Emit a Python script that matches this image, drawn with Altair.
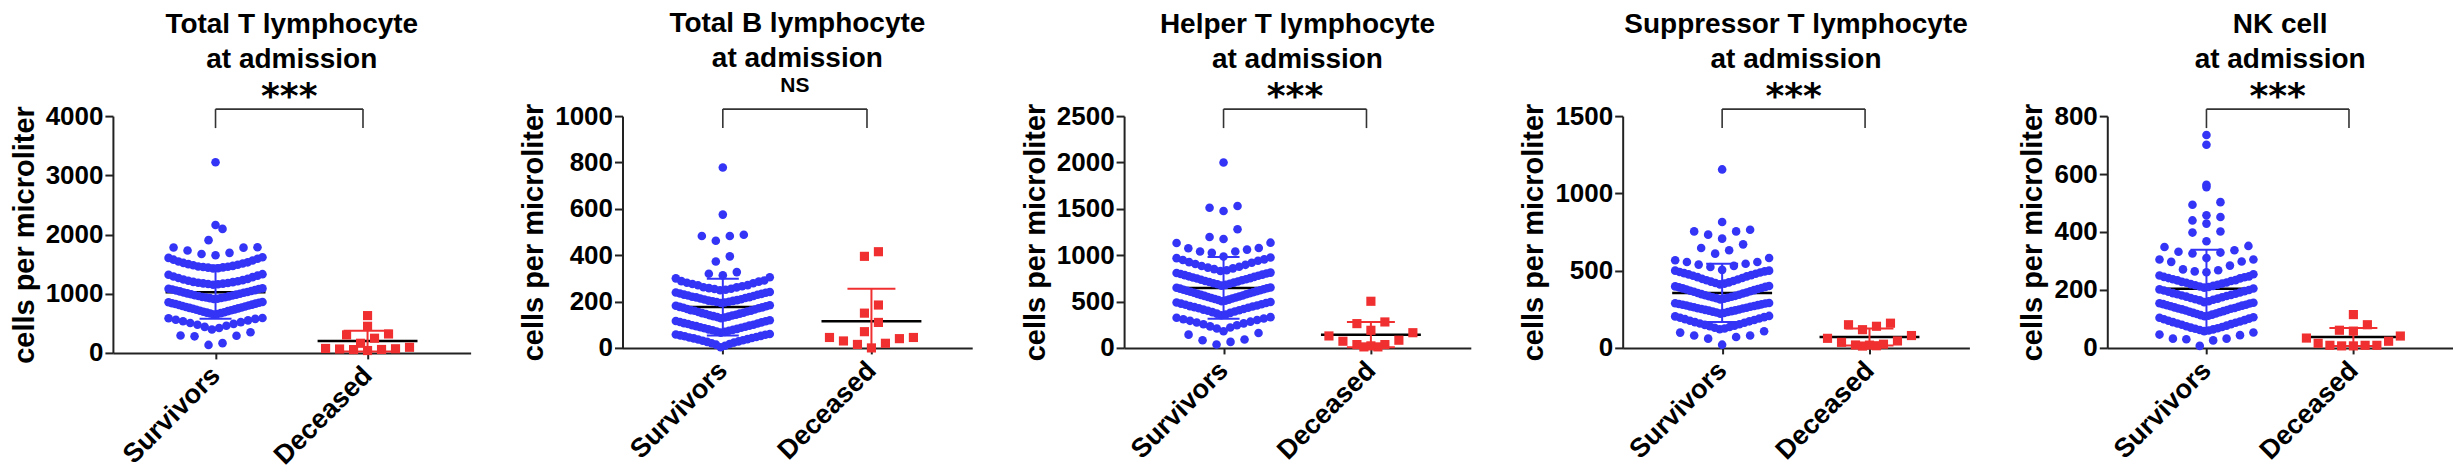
import altair as alt
import pandas as pd

# ---------------- data ----------------
TITLES = [
    ["Total T lymphocyte", "at admission"],
    ["Total B lymphocyte", "at admission"],
    ["Helper T lymphocyte", "at admission"],
    ["Suppressor T lymphocyte", "at admission"],
    ["NK cell", "at admission"],
]
GROUPS = ["Survivors", "Deceased"]
Y_TITLE = "cells per microliter"
Y_MAX = [4000, 1000, 2500, 1500, 800]
Y_TICKS = [
    [0, 1000, 2000, 3000, 4000],
    [0, 200, 400, 600, 800, 1000],
    [0, 500, 1000, 1500, 2000, 2500],
    [0, 500, 1000, 1500],
    [0, 200, 400, 600, 800],
]
SIG = ["***", "NS", "***", "***", "***"]

SURV_MEAN = [1025, 176, 647, 356, 204]
SURV_SD = [450, 122, 333, 188, 135]
DEC_MEAN = [200, 115, 143, 71, 38]
DEC_SD = [176, 140, 137, 55, 31]

# Total T lymphocyte
T_SURV = [3220, 2160, 2095, 1905,
          1785, 1778, 1730, 1690, 1670, 1650, 1780,
          1615, 1605, 1590, 1575, 1560, 1545, 1530, 1520, 1510, 1500, 1490, 1480, 1470, 1460, 1455, 1450, 1445,
          1440, 1430, 1425,
          1330, 1320, 1305, 1290, 1280, 1265, 1250, 1240, 1230, 1220, 1210, 1200, 1195, 1185, 1180, 1175, 1170,
          1165, 1160, 1150,
          1090, 1085, 1080, 1070, 1060, 1055, 1045, 1040, 1030, 1020, 1015, 1005, 1000, 990, 985, 975, 970, 960,
          955, 945, 940, 935, 930, 925, 915, 910,
          860, 855, 848, 840, 832, 825, 815, 808, 800, 792, 785, 775, 768, 760, 752, 745, 735, 728, 720, 712, 705,
          695, 688, 680, 672, 665, 658, 650,
          590, 585, 575, 560, 550, 535, 520, 505, 490, 475, 460, 440, 420, 395,
          350, 295, 290, 280, 165, 135]
T_DEC = [630, 450, 320, 304, 248, 163, 95, 75, 70, 66, 58, 56, 40]

# Total B lymphocyte
B_SURV = [778, 575, 488, 483, 483, 462, 395, 373, 327, 320, 313, 305, 300,
          291, 288, 286, 281, 279, 276, 271, 270, 266, 262, 261, 258, 255, 254, 251, 249,
          241, 239, 238, 235, 233, 230, 229, 226, 224, 221, 219, 218, 215, 213, 210, 209, 206, 204, 203, 201,
          199, 198, 196, 194,
          184, 182, 180, 177, 175, 173, 171, 168, 166, 163, 161, 160, 157, 155, 152, 150, 148, 146, 143, 141,
          140, 137, 135, 133, 131, 128,
          119, 116, 115, 112, 110, 107, 105, 103, 100, 98, 96, 94, 91, 89, 87, 85, 82, 80, 78, 76, 74, 71, 69, 66,
          60, 58, 57, 54, 52, 50, 47, 45, 43, 41, 38, 36, 33, 31, 28, 26, 23, 20, 17, 14, 9, 3]
B_DEC = [415, 395, 185, 150, 110, 70, 45, 40, 20, 0, 15, 30, 45]

# Helper T lymphocyte
H_SURV = [2000, 1530, 1512, 1476, 1279, 1196, 1175,
          1135, 1132, 1078, 1075, 1060, 1040, 1040, 1025, 985,
          975, 968, 955, 948, 940, 925, 918, 905, 896, 884, 875, 866, 858, 850, 838, 830,
          812, 808, 803, 797, 790, 785, 779, 772, 766, 760, 753, 748, 741, 735, 729, 722, 716, 711, 704, 698,
          692, 687, 680, 672,
          652, 648, 644, 639, 633, 628, 622, 617, 612, 606, 600, 595, 589, 583, 578, 572, 566, 561, 555, 549,
          544, 538, 533, 527, 521, 516, 510, 504,
          495, 490, 484, 478, 471, 465, 458, 451, 446, 440, 433, 427, 420, 413, 406, 400, 393, 386, 378, 370,
          361, 352,
          332, 325, 318, 309, 301, 292, 283, 274, 265, 255, 244, 232, 220, 210,
          180, 160, 143, 91, 83, 65, 36]
H_DEC = [503, 280, 262, 190, 164, 129, 83, 72, 36, 36, 22, 11, 11]

# Suppressor T lymphocyte
S_SURV = [1155, 815, 765, 754, 754, 733, 707, 670, 647, 632, 610, 582, 567, 556, 556, 545, 539, 531, 524,
          505, 500, 500,
          495, 491, 488, 484, 480, 476, 471, 467, 463, 458, 452, 447, 443, 438, 433, 429, 424, 420, 416, 411,
          401, 398, 395, 392, 388, 385, 381, 378, 374, 370, 367, 363, 359, 355, 352, 348, 344, 341, 337, 334,
          331, 328, 325, 322, 319, 314,
          291, 289, 287, 284, 282, 279, 277, 274, 271, 268, 266, 263, 260, 257, 255, 252, 249, 246, 243, 241,
          238, 235, 232, 229, 226, 222,
          207, 204, 199, 195, 190, 186, 181, 176, 172, 167, 163, 158, 153, 149, 144, 140, 135, 130, 126, 121,
          108, 99, 80, 80, 71, 60, 21]
S_DEC = [160, 150, 140, 118, 80, 62, 45, 36, 24, 19, 18, 14, 12]

# NK cell
N_SURV = [735, 701, 563, 555, 503, 494, 458, 452, 440, 429, 402, 398, 368,
          352, 348, 337, 332, 329, 326, 310, 305, 305, 298, 297, 284, 271, 268, 264, 261,
          254, 250, 247, 245, 244, 241, 240, 237, 234, 233, 231, 228, 226, 225, 222, 220, 218, 216, 214, 212,
          210, 208,
          205, 202, 200, 198, 196, 194, 191, 189, 187, 185, 183, 181, 179, 177, 175, 172, 170, 168, 166, 164,
          161, 158,
          156, 154, 153, 151, 149, 147, 146, 144, 142, 140, 138, 136, 135, 133, 131, 129, 127, 125, 123, 121,
          119, 117, 115, 113, 111, 109,
          106, 104, 101, 99, 96, 94, 91, 89, 87, 84, 82, 80, 77, 75, 72, 70, 68, 66, 64, 62, 60, 58,
          53, 46, 44, 32, 32, 30, 26, 7]
N_DEC = [115, 80, 61, 58, 41, 34, 23, 16, 9, 9, 7, 7, 9]

SURV = [T_SURV, B_SURV, H_SURV, S_SURV, N_SURV]
DEC = [T_DEC, B_DEC, H_DEC, S_DEC, N_DEC]

# ---------------- layout / style ----------------
FONT = "Liberation Sans"
STAR_FONT = "DejaVu Sans"
COLORS = {"Survivors": "#3434f6", "Deceased": "#f03030"}
SHAPES = {"Survivors": "circle", "Deceased": "square"}
SIZES = {"Survivors": 74, "Deceased": 84}
PANEL_W = [358, 350, 347, 347, 346]
PANEL_H = [237, 232, 232, 232, 232]
TITLE_OFFSET = [5, 2.5, 5, 5, 5]
SPACING = 49
X_DOM = [0.325, 2.678]
# row grouping of the dot plot (start, height in data units) per panel
BINS = [(120, 250), (0, 62), (20, 160), (18, 97), (7, 50)]
SLOT_PX = 14.0
SWARM_PX = 94.0
MEAN_HALF_PX = 50.0
CAP_HALF_PX = {"Survivors": 16.0, "Deceased": 24.0}
BRACKET = (1.0, 1.97)


def swarm(values, base, bw, ppu):
    rows = {}
    for v in values:
        rows.setdefault(int((v - base) // bw), []).append(v)
    out = []
    for k in sorted(rows):
        vs = sorted(rows[k])
        n = len(vs)
        s = SLOT_PX if n < 2 else min(SLOT_PX, SWARM_PX / (n - 1))
        for i, v in enumerate(vs):
            if n % 2:
                pos = ((i + 1) // 2) * (-1 if i % 2 else 1)
            else:
                pos = (i // 2 + 0.5) * (-1 if i % 2 == 0 else 1)
            out.append((v, pos * s / ppu))
    return out


def panel(i):
    ymax, w, h = Y_MAX[i], PANEL_W[i], PANEL_H[i]
    ppu = w / (X_DOM[1] - X_DOM[0])
    base, bw = BINS[i]

    yscale = alt.Scale(domain=[0, ymax], nice=False, zero=True)
    xscale = alt.Scale(domain=X_DOM, nice=False, zero=False)
    yaxis = alt.Axis(
        title=Y_TITLE, values=Y_TICKS[i], format="d", grid=False,
        titleFont=FONT, titleFontSize=29, titleFontWeight="bold", titleColor="black", titlePadding=6,
        labelFont=FONT, labelFontSize=26, labelFontWeight="bold", labelColor="black", labelPadding=2,
        domainColor="#222", domainWidth=2, tickColor="#222", tickWidth=2, tickSize=8,
    )
    label_expr = "datum.value == 1 ? '%s' : '%s'" % (GROUPS[0], GROUPS[1])
    xaxis = alt.Axis(
        title=None, values=[1, 2], labelExpr=label_expr, grid=False,
        labelFont=FONT, labelFontSize=27, labelFontWeight="bold", labelColor="black",
        labelAngle=-45, labelAlign="right", labelBaseline="middle", labelPadding=12,
        domainColor="#222", domainWidth=2, tickColor="#222", tickWidth=2, tickSize=6,
    )

    def X(f):
        return alt.X(f, type="quantitative", scale=xscale, axis=xaxis)

    def Y(f):
        return alt.Y(f, type="quantitative", scale=yscale, axis=yaxis)

    pts, stats, caps = [], [], []
    means = [SURV_MEAN[i], DEC_MEAN[i]]
    sds = [SURV_SD[i], DEC_SD[i]]
    for j, (g, vals) in enumerate(zip(GROUPS, [SURV[i], DEC[i]])):
        cat = j + 1
        for v, off in swarm(vals, base, bw, ppu):
            pts.append({"x": cat + off, "v": v, "color": COLORS[g], "shape": SHAPES[g], "size": SIZES[g]})
        m, sd = means[j], sds[j]
        lo = max(0, m - sd)
        stats.append({"cat": cat, "m1": cat - MEAN_HALF_PX / ppu, "m2": cat + MEAN_HALF_PX / ppu,
                      "mean": m, "lo": lo, "hi": m + sd, "color": COLORS[g]})
        ch = CAP_HALF_PX[g] / ppu
        caps.append({"c1": cat - ch, "c2": cat + ch, "y": m + sd, "color": COLORS[g]})
        if m - sd > 0:
            caps.append({"c1": cat - ch, "c2": cat + ch, "y": m - sd, "color": COLORS[g]})

    pts = pd.DataFrame(pts)
    stats = pd.DataFrame(stats)
    caps = pd.DataFrame(caps)
    top = pd.DataFrame({"b1": [BRACKET[0]], "b2": [BRACKET[1]], "xm": [(BRACKET[0] + BRACKET[1]) / 2],
                        "y": [ymax], "sig": [SIG[i]]})
    ends = pd.DataFrame({"x": list(BRACKET), "y": [ymax, ymax]})

    mean_l = alt.Chart(stats).mark_rule(color="black", strokeWidth=2.5).encode(x=X("m1"), x2="m2", y=Y("mean"))
    sd_l = alt.Chart(stats).mark_rule(strokeWidth=2).encode(
        x=X("cat"), y=Y("lo"), y2="hi", color=alt.Color("color:N", scale=None))
    cap_l = alt.Chart(caps).mark_rule(strokeWidth=2).encode(
        x=X("c1"), x2="c2", y=Y("y"), color=alt.Color("color:N", scale=None))
    pt_l = alt.Chart(pts).mark_point(filled=True, opacity=1, strokeWidth=0).encode(
        x=X("x"), y=Y("v"),
        color=alt.Color("color:N", scale=None),
        shape=alt.Shape("shape:N", scale=None),
        size=alt.Size("size:Q", scale=None),
    )
    br_h = alt.Chart(top).mark_rule(color="#333", strokeWidth=1.6, yOffset=-7).encode(
        x=X("b1"), x2="b2", y=Y("y"))
    br_v = alt.Chart(ends).mark_rule(color="#333", strokeWidth=1.6, yOffset=-7, y2Offset=12).encode(
        x=X("x"), y=Y("y"), y2="y")
    is_star = SIG[i] == "***"
    star = alt.Chart(top).mark_text(font=STAR_FONT, fontSize=36, fontWeight="bold", color="black",
                                    baseline="middle", dy=-19, opacity=1 if is_star else 0).encode(
        x=X("xm"), y=Y("y"), text=alt.value("***"))
    layers = [mean_l, sd_l, cap_l, pt_l, br_h, br_v, star]
    if not is_star:
        ns = alt.Chart(top).mark_text(font=FONT, fontSize=21, fontWeight="bold", color="black",
                                      baseline="middle", dy=-30).encode(
            x=X("xm"), y=Y("y"), text="sig:N")
        layers.append(ns)

    return alt.layer(*layers).properties(
        width=w, height=h,
        title=alt.TitleParams(text=TITLES[i], font=FONT, fontSize=28, fontWeight="bold", color="black",
                              anchor="middle", frame="group", lineHeight=35, offset=TITLE_OFFSET[i]),
    )


chart = alt.hconcat(*[panel(i) for i in range(5)], spacing=SPACING).configure_view(stroke=None).properties(
    padding={"left": 2, "top": 1, "right": 0, "bottom": 0}, background="white")

chart.save("out.html", embed_options={"renderer": "svg", "actions": False})
